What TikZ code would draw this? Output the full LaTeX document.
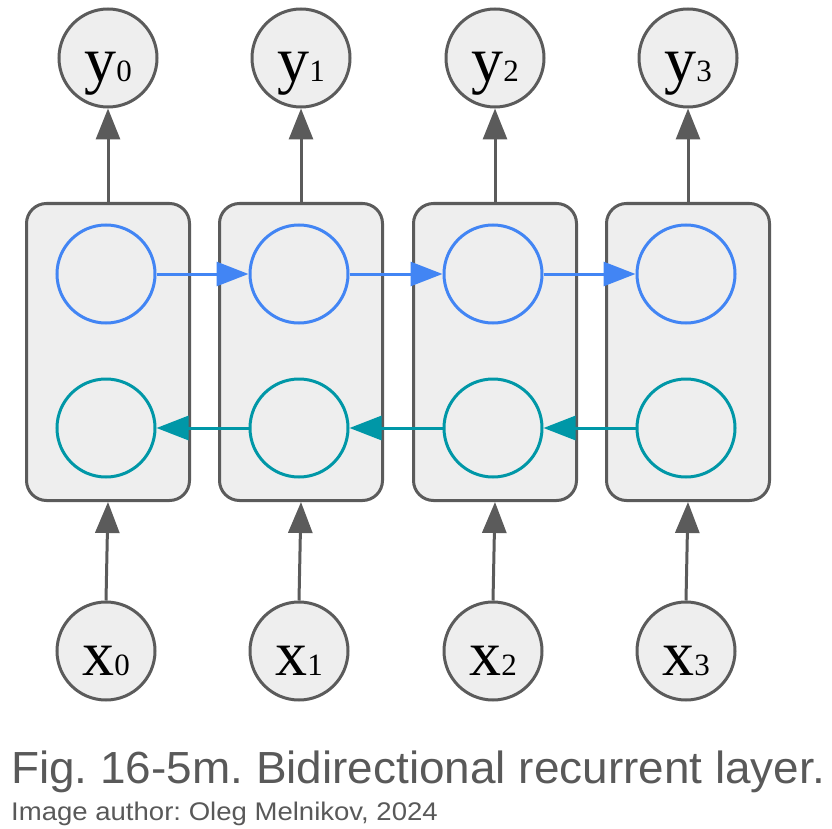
\documentclass[tikz,border=0pt]{standalone}
\usepackage{fontspec}
\setmainfont{Liberation Serif}
\newfontfamily\capfont{Liberation Sans}
\usetikzlibrary{arrows.meta}
\definecolor{cgray}{HTML}{5B5B5B}
\definecolor{cfill}{HTML}{EEEEEE}
\definecolor{cblue}{HTML}{4285F4}
\definecolor{cteal}{HTML}{0097A7}
\definecolor{ctext}{HTML}{595959}
\newcommand{\lab}[2]{{\fontsize{64}{64}\selectfont #1}{\fontsize{31}{31}\selectfont #2}}
\tikzset{
  cell/.style={draw=cgray, line width=3pt, fill=cfill, rounded corners=20pt,
    minimum width=163pt, minimum height=297pt, inner sep=0pt},
  io/.style={circle, draw=cgray, line width=3pt, fill=cfill, minimum size=98pt,
    inner sep=0pt, text height=48pt, text depth=0pt, font=\fontsize{64}{64}\selectfont},
  fwd/.style={circle, draw=cblue, line width=3pt, minimum size=98pt, inner sep=0pt},
  bwd/.style={circle, draw=cteal, line width=3pt, minimum size=98pt, inner sep=0pt},
  garrow/.style={draw=cgray, line width=3pt, -{Triangle[length=31pt,width=24pt]}},
  barrow/.style={draw=cblue, line width=3pt, -{Triangle[length=32pt,width=24pt]}},
  tarrow/.style={draw=cteal, line width=3pt, -{Triangle[length=32pt,width=24pt]}},
  captxt/.style={anchor=base west, inner sep=0pt, text=ctext},
}
\begin{document}
\frenchspacing
\begin{tikzpicture}[x=1pt,y=-1pt]
\useasboundingbox (0,0) rectangle (832,829);
\foreach \i/\bx in {0/108,1/301,2/495,3/688}{
  \node[cell] (c\i) at (\bx,352) {};
  \node[fwd] (f\i) at (\bx-2,274) {};
  \node[bwd] (b\i) at (\bx-2,428) {};
  \node[io] (y\i) at (\bx,58) {\lab{y}{\i}};
  \node[io] (x\i) at (\bx-2,651) {\lab{x}{\i}};
  \draw[garrow] (c\i.north) -- (y\i.south);
  \draw[garrow] (x\i.north) -- (c\i.south);
}
\foreach \a/\b in {0/1,1/2,2/3}{
  \draw[barrow] (f\a.east) -- (f\b.west);
  \draw[tarrow] (b\b.west) -- (b\a.east);
}
\node[captxt, font=\capfont\fontsize{45}{45}\selectfont] (cap) at (11,783) {\scalebox{1.02}[1]{Fig. 16-5m. Bidirectional recurrent layer.}};
\node[captxt, font=\capfont\fontsize{25.5}{25.5}\selectfont] (auth) at (11,820) {\scalebox{1.08}[1]{Image author: Oleg Melnikov, 2024}};
\end{tikzpicture}
\end{document}
